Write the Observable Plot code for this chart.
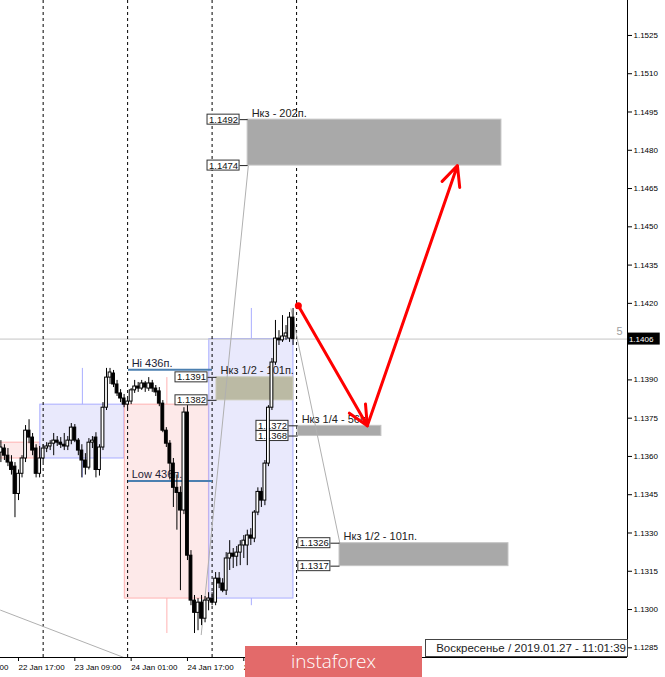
<!DOCTYPE html>
<html><head><meta charset="utf-8">
<script src="https://cdn.jsdelivr.net/npm/d3@7"></script>
<script src="https://cdn.jsdelivr.net/npm/@observablehq/plot@0.6"></script>
<style>
body{margin:0;background:#fff;}
#wrap{position:relative;width:665px;height:677px;overflow:hidden;font-family:"Liberation Sans",Arial,sans-serif;}
#wrap svg{position:absolute;left:0;top:0;}
#logo{position:absolute;left:245px;top:646px;width:177px;height:31px;background:#e36a6a;color:#fff;font:300 19px "Open Sans",sans-serif;text-align:center;line-height:31px;}
#stamp{position:absolute;left:425px;top:639px;width:200px;height:16px;border:1px solid #444;background:#fff;color:#222;font:11.5px "Liberation Sans",Arial,sans-serif;text-align:right;line-height:16px;padding-right:1px;box-sizing:content-box;white-space:nowrap;}
</style></head>
<body><div id="wrap"></div>
<script>
// hours counted from 22 Jan 17:00 (H1 bars)
const candleHour = [-5,-4,-3,-2,-1,0,1,2,3,4,5,6,7,8,9,10,11,12,13,14,15,16,17,18,19,20,21,22,23,24,25,26,27,28,29,30,31,32,33,34,35,36,37,38,39,40,41,42,43,44,45,46,47,48,49,50,51,52,53,54,55,56,57,58,59,60,61,62,63,64,65,66,67,68,69,70,71,72,73,74,75,76,77,78];
const candleOpen = [1.13615,1.13631,1.13603,1.13576,1.13560,1.13453,1.13532,1.13592,1.13701,1.13674,1.13631,1.13532,1.13592,1.13631,1.13639,1.13650,1.13662,1.13654,1.13646,1.13639,1.13662,1.13713,1.13662,1.13623,1.13584,1.13556,1.13654,1.13674,1.13547,1.13635,1.13791,1.13909,1.13925,1.13882,1.13847,1.13827,1.13803,1.13815,1.13859,1.13874,1.13866,1.13886,1.13866,1.13886,1.13866,1.13855,1.13807,1.13701,1.13650,1.13572,1.13477,1.13457,1.13388,1.13772,1.13211,1.13035,1.12987,1.13027,1.12964,1.13035,1.13043,1.13027,1.13121,1.13102,1.13074,1.13200,1.13219,1.13207,1.13223,1.13251,1.13251,1.13290,1.13278,1.13380,1.13461,1.13427,1.13572,1.13791,1.13968,1.14062,1.14055,1.14070,1.14062,1.14144];
const candleHigh = [1.13662,1.13646,1.13631,1.13603,1.13576,1.13547,1.13603,1.13721,1.13744,1.13690,1.13646,1.13639,1.13646,1.13654,1.13662,1.13690,1.13678,1.13674,1.13690,1.13678,1.13729,1.13725,1.13670,1.13646,1.13611,1.13670,1.13678,1.13693,1.13646,1.13811,1.13945,1.13945,1.13937,1.13898,1.13862,1.13843,1.13823,1.13866,1.13898,1.13890,1.13898,1.13894,1.13909,1.13898,1.13878,1.13870,1.13819,1.13713,1.13662,1.13592,1.13527,1.13481,1.13791,1.13799,1.13231,1.13055,1.13043,1.13055,1.13051,1.13066,1.13066,1.13145,1.13145,1.13121,1.13223,1.13270,1.13239,1.13247,1.13270,1.13290,1.13311,1.13317,1.13388,1.13477,1.13477,1.13584,1.13799,1.13984,1.14133,1.14093,1.14152,1.14113,1.14164,1.14180];
const candleLow = [1.13576,1.13584,1.13560,1.13527,1.13360,1.13427,1.13516,1.13576,1.13650,1.13603,1.13516,1.13516,1.13576,1.13615,1.13623,1.13603,1.13639,1.13631,1.13623,1.13623,1.13646,1.13654,1.13603,1.13516,1.13527,1.13547,1.13631,1.13516,1.13523,1.13623,1.13780,1.13882,1.13870,1.13835,1.13811,1.13791,1.13787,1.13803,1.13847,1.13851,1.13859,1.13851,1.13855,1.13851,1.13835,1.13795,1.13693,1.13635,1.13508,1.13400,1.13311,1.13074,1.13372,1.13192,1.13015,1.12906,1.12917,1.12937,1.12948,1.12995,1.13015,1.13015,1.13082,1.13066,1.13055,1.13153,1.13161,1.13168,1.13172,1.13200,1.13172,1.13251,1.13262,1.13368,1.13400,1.13407,1.13560,1.13780,1.13957,1.14035,1.14047,1.14055,1.14047,1.14035];
const candleClose = [1.13635,1.13603,1.13576,1.13547,1.13453,1.13532,1.13592,1.13701,1.13674,1.13623,1.13532,1.13592,1.13631,1.13639,1.13650,1.13662,1.13654,1.13646,1.13639,1.13662,1.13713,1.13662,1.13623,1.13584,1.13556,1.13654,1.13662,1.13547,1.13635,1.13791,1.13909,1.13929,1.13882,1.13847,1.13827,1.13803,1.13815,1.13859,1.13874,1.13866,1.13886,1.13870,1.13886,1.13866,1.13851,1.13807,1.13701,1.13650,1.13572,1.13477,1.13457,1.13388,1.13772,1.13211,1.13035,1.12987,1.13027,1.12964,1.13035,1.13043,1.13027,1.13121,1.13102,1.13074,1.13200,1.13219,1.13207,1.13223,1.13251,1.13270,1.13290,1.13278,1.13380,1.13461,1.13427,1.13572,1.13791,1.13968,1.14062,1.14055,1.14070,1.14082,1.14144,1.14060];

// daily open/close boxes (22..25 Jan)
const dayStartHour = [-17, 7, 31, 55];
const dayOpen  = [1.13654, 1.13592, 1.13803, 1.13043];
const dayClose = [1.13592, 1.13803, 1.13043, 1.14060];
const dayHigh  = [1.13750, 1.13945, 1.13909, 1.14180];
const dayLow   = [1.13360, 1.13516, 1.12906, 1.13015];
const separatorHour = [7, 31, 55, 79];

// axes
const priceTicks = [1.1285,1.1300,1.1315,1.1330,1.1345,1.1360,1.1375,1.1390,1.1420,1.1435,1.1450,1.1465,1.1480,1.1495,1.1510,1.1525];
const timeTickHour = [-16, 0, 16, 32, 48, 64];
const timeTickLabel = ["22 Jan 01:00","22 Jan 17:00","23 Jan 09:00","24 Jan 01:00","24 Jan 17:00","25 Jan 09:00"];
const currentPrice = 1.1406;

// target zones
const zoneTitle  = ["Нкз - 202п.", "Нкз 1/2 - 101п.", "Нкз 1/4 - 56п.", "Нкз 1/2 - 101п."];
const zoneTop    = [1.1492, 1.1391, 1.1372, 1.1326];
const zoneBottom = [1.1474, 1.1382, 1.1368, 1.1317];
const zoneFrom   = [65.1, 56.25, 79.3, 91.2];
const zoneTo     = [137.2, 78.1, 103.1, 139.2];
const zoneLabelFrom = [53.7, 44.6, 67.6, 79.5];

// Hi / Low range lines on 24 Jan
const rangeTitle = ["Hi 436п.", "Low 436п."];
const rangePrice = [1.13940, 1.13504];
const rangeFrom = 31.25, rangeTo = 55.1;

// forecast path (red)
const pathHour  = [79.5, 99.1, 124.7];
const pathPrice = [1.14191, 1.1372, 1.1474];

// thin grey guide lines
const guideFromHour  = [51.9, 77.4, -5.2];
const guideFromPrice = [1.1290, 1.1418, 1.12998];
const guideToHour    = [65.3, 91.3, 37.5];
const guideToPrice   = [1.1474, 1.1326, 1.12772];

const xMin = -5.114, xMax = 173.01, yMin = 1.12812, yMax = 1.15387;

const candles = candleHour.map((h,k)=>({h, o:candleOpen[k], hi:candleHigh[k], lo:candleLow[k], c:candleClose[k]}));
const days = dayStartHour.map((s,k)=>({s, o:dayOpen[k], c:dayClose[k], hi:dayHigh[k], lo:dayLow[k], up:dayClose[k]>=dayOpen[k]}));
const zones = zoneTitle.map((t,k)=>({t, top:zoneTop[k], bottom:zoneBottom[k], from:zoneFrom[k], to:zoneTo[k], lab:zoneLabelFrom[k], k}));
const zoneLabels = zones.flatMap(z=>[{x:z.lab, p:z.top, to:z.from},{x:z.lab, p:z.bottom, to:z.from}]);
const ranges = rangeTitle.map((t,k)=>({t, p:rangePrice[k]}));
const segments = pathHour.slice(1).map((h,k)=>({x1:pathHour[k], y1:pathPrice[k], x2:h, y2:pathPrice[k+1]}));
const guides = guideFromHour.map((h,k)=>({x1:h, y1:guideFromPrice[k], x2:guideToHour[k], y2:guideToPrice[k]}));
const labW = 9.1;

const chart = Plot.plot({
  width: 665, height: 677,
  marginLeft: 0, marginRight: 38, marginTop: 0, marginBottom: 20,
  x: {domain: [xMin, xMax], axis: null},
  y: {domain: [yMin, yMax], axis: null},
  style: {fontFamily: "'Liberation Sans', Arial, sans-serif", background: "#fff", overflow: "visible"},
  marks: [
    Plot.rect(days, {x1: d=>d.s-0.8, x2: d=>d.s+23.1, y1: "o", y2: "c",
      fill: d=>d.up ? "#e9e9fc" : "#fde9e9", stroke: d=>d.up ? "#a9adff" : "#ffb2b2", clip: true}),
    Plot.ruleX(days, {x: d=>d.s+11.15, y1: d=>Math.max(d.o,d.c), y2: "hi", stroke: d=>d.up ? "#a9adff" : "#ffb2b2", clip: true}),
    Plot.ruleX(days, {x: d=>d.s+11.15, y1: d=>Math.min(d.o,d.c), y2: "lo", stroke: d=>d.up ? "#a9adff" : "#ffb2b2", clip: true}),
    Plot.ruleY([currentPrice], {x1: xMin, x2: xMax, stroke: "#c4c4c4"}),
    Plot.ruleX(separatorHour, {y1: yMin, y2: yMax, stroke: "#000", strokeDasharray: "3,3"}),
    Plot.rect(zones, {x1: "from", x2: "to", y1: "bottom", y2: "top",
      fill: d=>d.k===1 ? "#bbbaa4" : "#a9a9a9", stroke: d=>d.k===1 ? "#c9c8b4" : "#c4c4c4"}),
    Plot.link(guides, {x1: "x1", y1: "y1", x2: "x2", y2: "y2", stroke: "#b0b0b0", clip: true}),
    Plot.ruleY(ranges, {y: "p", x1: rangeFrom, x2: rangeTo, stroke: "#4b7fb0", strokeWidth: 2}),
    Plot.text(ranges, {x: rangeFrom+0.9, y: "p", text: "t", dy: -3, lineAnchor: "bottom", textAnchor: "start", fontSize: 11, fill: "#1d2235"}),
    Plot.link(zoneLabels, {x1: d=>d.x+labW, x2: "to", y1: "p", y2: "p", stroke: "#222"}),
    Plot.rect(zoneLabels, {x1: "x", x2: d=>d.x+labW, y1: "p", y2: "p", insetTop: -5, insetBottom: -5, fill: "#fff", stroke: "#333"}),
    Plot.text(zoneLabels, {x: d=>d.x+labW/2, y: "p", text: d=>d.p.toFixed(4), fontSize: 9.5, fill: "#111"}),
    Plot.text(zones, {x: "from", y: "top", text: "t", dx: 4, dy: -3, textAnchor: "start", lineAnchor: "bottom", fontSize: 11, fill: "#222"}),
    Plot.ruleX(candles, {x: "h", y1: "lo", y2: "hi", stroke: "#000", clip: true}),
    Plot.rect(candles, {x1: d=>d.h-0.4, x2: d=>d.h+0.4, y1: "o", y2: "c",
      fill: d=>d.c>=d.o ? "#fff" : "#000", stroke: "#000", clip: true}),
    Plot.arrow(segments, {x1: "x1", y1: "y1", x2: "x2", y2: "y2", stroke: "#ff0000", strokeWidth: 3, headLength: 11, headAngle: 50}),
    Plot.dot([pathHour[0]], {x: d=>d, y: pathPrice[0], r: 3.5, fill: "#ff0000"}),
    Plot.ruleX([xMax], {y1: yMin, y2: yMax, stroke: "#000"}),
    Plot.ruleY([yMin], {x1: xMin, x2: xMax, stroke: "#000"}),
    Plot.axisY(priceTicks, {anchor: "right", tickSize: 4, tickPadding: 2, tickFormat: d=>d.toFixed(4), fontSize: 8, label: null}),
    Plot.axisX(timeTickHour, {anchor: "bottom", tickSize: 4, tickPadding: 3, tickFormat: d=>timeTickLabel[timeTickHour.indexOf(d)], textAnchor: "start", fontSize: 8, label: null}),
    Plot.rect([currentPrice], {x1: xMax+0.15, x2: xMax+9.3, y1: d=>d, y2: d=>d, insetTop: -6, insetBottom: -6, fill: "#000"}),
    Plot.text([currentPrice], {x: xMax+0.4, y: d=>d, text: d=>d.toFixed(4), textAnchor: "start", fontSize: 8, fill: "#fff"}),
    Plot.text(["5"], {x: xMax, y: currentPrice, text: d=>d, dx: -8, dy: -8, fontSize: 11, fill: "#a0a0a0"})
  ]
});
const wrap = document.getElementById("wrap");
wrap.appendChild(chart);
const stamp = document.createElement("div"); stamp.id = "stamp"; stamp.textContent = "Воскресенье / 2019.01.27 - 11:01:39"; wrap.appendChild(stamp);
const logo = document.createElement("div"); logo.id = "logo"; logo.textContent = "instaforex"; wrap.appendChild(logo);
</script>
</body></html>
